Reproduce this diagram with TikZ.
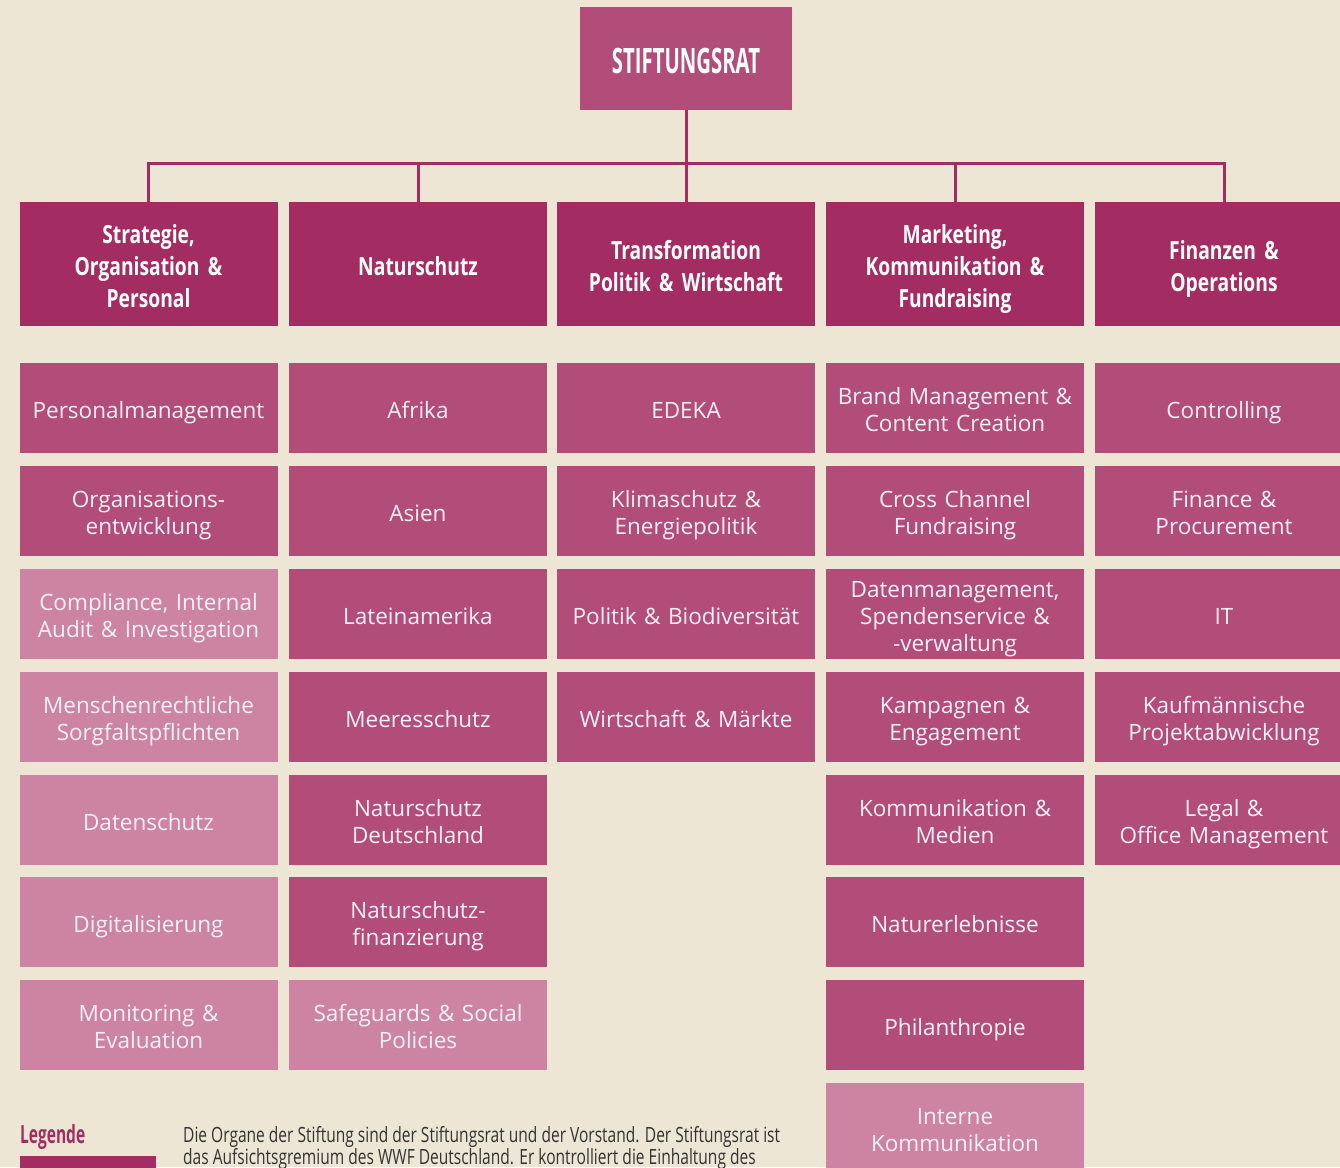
\documentclass[tikz,border=0pt]{standalone}
\usepackage{fontspec}
\setmainfont{Open Sans}
\newfontfamily\headfont[FakeStretch=0.77]{Open Sans}
\newfontfamily\titlefont[FakeStretch=0.58]{Open Sans}
\newfontfamily\legheadfont[FakeStretch=0.62]{Open Sans}
\newfontfamily\legfont[FakeStretch=0.74]{Open Sans}
\definecolor{bg}{HTML}{EDE6D5}
\definecolor{dark}{HTML}{A32D62}
\definecolor{mid}{HTML}{B24C78}
\definecolor{light}{HTML}{CC84A2}
\definecolor{btext}{HTML}{FAF0F5}
\definecolor{legtext}{HTML}{333333}
\tikzset{
  box/.style={minimum width=258pt, minimum height=90pt, inner sep=0pt},
  midbox/.style={box, fill=mid},
  lightbox/.style={box, fill=light},
  boxtext/.style={inner sep=0pt, align=center, text width=252pt, text=btext,
    font=\fontsize{22.5}{27}\selectfont},
  headbox/.style={minimum width=258pt, minimum height=124pt, inner sep=0pt, fill=dark},
  headtext/.style={inner sep=0pt, align=center, text width=252pt, text=white,
    font=\headfont\bfseries\fontsize{25}{32}\selectfont},
  titlebox/.style={minimum width=212pt, minimum height=103pt, inner sep=0pt, fill=mid},
  titletext/.style={inner sep=0pt, text=white, font=\titlefont\bfseries\fontsize{35}{40}\selectfont},
  conn/.style={draw=dark, line width=3pt},
}
% #1 style, #2 name, #3 position, #4 text
\newcommand\bcell[4]{\node[#1] (#2) at (#3) {};
  \node[boxtext] (#2t) at ([yshift=-5pt]#2.center) {\strut#4\strut};}
\newcommand\hcell[3]{\node[headbox] (#1) at (#2) {};
  \node[headtext] (#1t) at ([yshift=-5pt]#1.center) {\strut#3\strut};}
\begin{document}
\begin{tikzpicture}[x=1pt,y=-1pt]
\useasboundingbox[fill=bg] (0,0) rectangle (1340,1167);
% title
\node[titlebox] (rat) at (686,58.5) {};
\node[titletext] (ratt) at ([yshift=-2pt]rat.center) {STIFTUNGSRAT};
% headers
\hcell{h1}{148.5,264}{Strategie,\\Organisation \&\\Personal}
\hcell{h2}{418,264}{Naturschutz}
\hcell{h3}{686,264}{Transformation\\Politik \& Wirtschaft}
\hcell{h4}{955,264}{Marketing,\\Kommunikation \&\\Fundraising}
\hcell{h5}{1224,264}{Finanzen \&\\Operations}
% connectors
\coordinate (bus) at (686,163);
\draw[conn] (rat.south) -- (bus);
\draw[conn] (h1.north) |- (bus) -| (h5.north);
\draw[conn] (h2.north) -- (h2.north |- bus);
\draw[conn] (h3.north) -- (h3.north |- bus);
\draw[conn] (h4.north) -- (h4.north |- bus);
% column 1
\bcell{midbox}{a1}{148.5,408}{Personalmanagement}
\bcell{midbox}{a2}{148.5,511}{Organisations-\\entwicklung}
\bcell{lightbox}{a3}{148.5,614}{Compliance, Internal\\Audit \& Investigation}
\bcell{lightbox}{a4}{148.5,717}{Menschenrechtliche\\Sorgfaltspflichten}
\bcell{lightbox}{a5}{148.5,820}{Datenschutz}
\bcell{lightbox}{a6}{148.5,922}{Digitalisierung}
\bcell{lightbox}{a7}{148.5,1025}{Monitoring \&\\Evaluation}
% column 2
\bcell{midbox}{b1}{418,408}{Afrika}
\bcell{midbox}{b2}{418,511}{Asien}
\bcell{midbox}{b3}{418,614}{Lateinamerika}
\bcell{midbox}{b4}{418,717}{Meeresschutz}
\bcell{midbox}{b5}{418,820}{Naturschutz\\Deutschland}
\bcell{midbox}{b6}{418,922}{Naturschutz-\\finanzierung}
\bcell{lightbox}{b7}{418,1025}{Safeguards \& Social\\Policies}
% column 3
\bcell{midbox}{c1}{686,408}{EDEKA}
\bcell{midbox}{c2}{686,511}{Klimaschutz \&\\Energiepolitik}
\bcell{midbox}{c3}{686,614}{Politik \& Biodiversität}
\bcell{midbox}{c4}{686,717}{Wirtschaft \& Märkte}
% column 4
\bcell{midbox}{d1}{955,408}{Brand Management \&\\Content Creation}
\bcell{midbox}{d2}{955,511}{Cross Channel\\Fundraising}
\bcell{midbox}{d3}{955,614}{Datenmanagement,\\Spendenservice \&\\-verwaltung}
\bcell{midbox}{d4}{955,717}{Kampagnen \&\\Engagement}
\bcell{midbox}{d5}{955,820}{Kommunikation \&\\Medien}
\bcell{midbox}{d6}{955,922}{Naturerlebnisse}
\bcell{midbox}{d7}{955,1025}{Philanthropie}
\bcell{lightbox}{d8}{955,1128}{Interne\\Kommunikation}
% column 5
\bcell{midbox}{e1}{1224,408}{Controlling}
\bcell{midbox}{e2}{1224,511}{Finance \&\\Procurement}
\bcell{midbox}{e3}{1224,614}{IT}
\bcell{midbox}{e4}{1224,717}{Kaufmännische\\Projektabwicklung}
\bcell{midbox}{e5}{1224,820}{Legal \&\\Office Management}
% legend
\node[anchor=base west, inner sep=0pt, text=dark, font=\legheadfont\bfseries\fontsize{25}{30}\selectfont] (leg) at (20,1143) {Legende};
\node[anchor=north west, minimum width=136pt, minimum height=20pt, inner sep=0pt, fill=dark] (legbox) at (20,1156) {};
\node[anchor=base west, inner sep=0pt, text=legtext, font=\legfont\fontsize{21}{22}\selectfont] (lt1) at (183,1142) {Die Organe der Stiftung sind der Stiftungsrat und der Vorstand. Der Stiftungsrat ist};
\node[anchor=base west, inner sep=0pt, text=legtext, font=\legfont\fontsize{21}{22}\selectfont] (lt2) at (183,1164) {das Aufsichtsgremium des WWF Deutschland. Er kontrolliert die Einhaltung des};
\end{tikzpicture}
\end{document}
